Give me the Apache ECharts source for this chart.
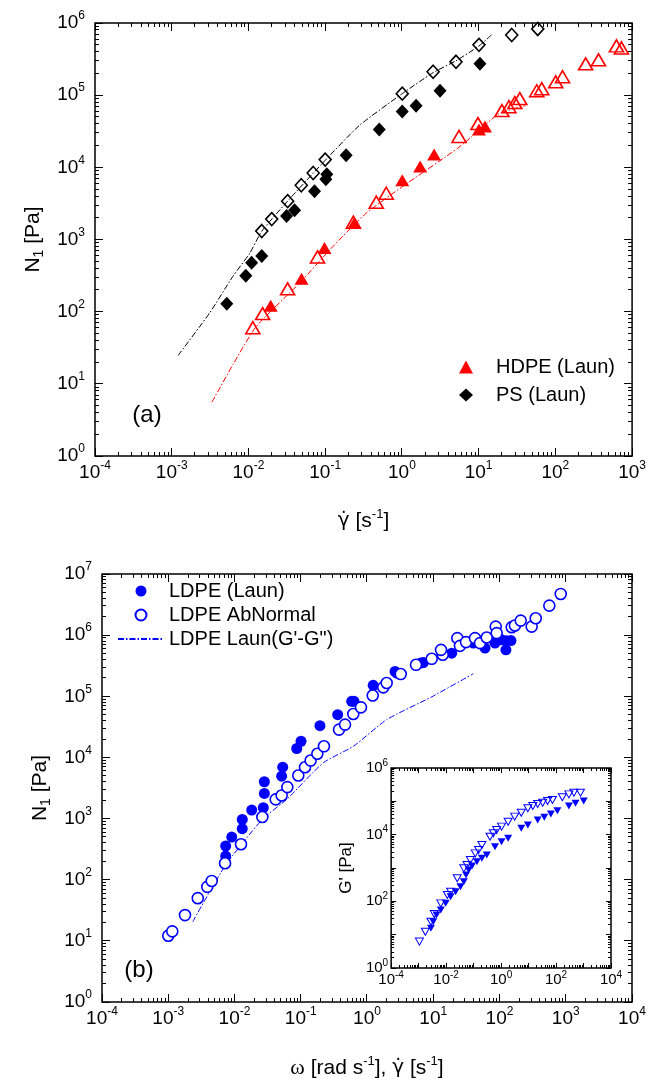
<!DOCTYPE html>
<html><head><meta charset="utf-8">
<script src="https://cdn.jsdelivr.net/npm/echarts@6/dist/echarts.min.js"></script>
<style>
html,body{margin:0;padding:0;background:#fff}
#wrap{position:relative;width:649px;height:1084px;overflow:hidden}
#ca{position:absolute;left:0;top:0;width:649px;height:540px}
#cb{position:absolute;left:0;top:540px;width:649px;height:544px}
#ci{position:absolute;left:330px;top:740px;width:300px;height:262px;z-index:2}
</style>
</head><body><div id="wrap"><div id="ca"></div><div id="cb"></div><div id="ci"></div></div>
<script>
// ---------- data (a) ----------
const hdpeFilled = [[0.0195,121],[0.0492,285],[0.098,764],[0.24,1690],[1.01,6620],[1.73,10300],[2.63,15100],[10.1,33400],[12.1,36800]];
const hdpeOpen = [[0.0114,60],[0.0153,94],[0.0324,207],[0.0794,574],[0.233,1740],[0.463,3290],[0.625,4380],[5.55,26800],[9.8,40400],[20.1,61100],[24.8,69300],[29.6,78900],[34.4,89600],[57.2,115000],[66.4,123000],[101,153000],[124,180000],[248,272000],[365,309000],[625,482000],[726,452000]];
const psFilled = [[0.00522,129],[0.00923,314],[0.011,475],[0.0149,592],[0.0314,2110],[0.0399,2550],[0.0726,4670],[0.102,6820],[0.105,8000],[0.1875,14700],[0.507,33400],[1.01,59200],[1.53,71600],[3.14,115000],[10.4,272000]];
const psOpen = [[0.0149,1310],[0.0201,1920],[0.0324,3400],[0.0488,5650],[0.0698,8340],[0.1,12800],[1.01,105000],[2.55,211000],[5.07,290000],[10.1,498000],[27,682000],[58.9,827000]];
const hdpeLine = [[0.00334,5.56],[0.0063,18.6],[0.0127,62.7],[0.0463,249],[0.1256,796],[0.34,2300],[1.0,5350],[5.55,19000],[18.4,55100],[40.7,71600]];
const psLine = [[0.00121,24.7],[0.00314,97],[0.00625,307],[0.0104,646],[0.0149,1300],[0.0324,3400],[0.1,12500],[0.279,38000],[1.01,105000],[2.55,205000],[5.07,300000],[10.1,480000],[15,698000]];
// ---------- data (b) ----------
const ldpeFilled = [[0.00736,244],[0.00736,356],[0.00908,499],[0.0131,684],[0.0131,970],[0.0182,1380],[0.0272,1510],[0.0282,2580],[0.0282,4000],[0.0515,4930],[0.0534,6920],[0.0869,14000],[0.101,18400],[0.195,33100],[0.361,50100],[0.587,82600],[0.637,82600],[1.24,151000],[2.65,255000],[2.81,240000],[6.47,349000],[7.08,357000],[19.0,508000],[40.3,741000],[60.4,614000],[85.5,741000],[108,837000],[128,807000],[149,816000],[125,575000]];
const ldpeOpen = [[0.001,12.1],[0.00115,14.3],[0.00179,26.4],[0.00279,49.9],[0.00388,76.4],[0.00453,95.5],[0.0072,186],[0.01253,380],[0.0263,1060],[0.0419,2060],[0.0515,2390],[0.0627,3270],[0.0918,5070],[0.116,6920],[0.141,8890],[0.178,11500],[0.224,15200],[0.378,28500],[0.466,34400],[0.621,51400],[0.811,65900],[1.22,103000],[1.76,140000],[1.98,165000],[3.23,231000],[5.49,327000],[9.48,410000],[13.9,478000],[13.1,575000],[23.1,893000],[25.3,668000],[31.2,770000],[42.7,893000],[50.8,741000],[64.1,915000],[87.7,1380000],[90.7,1080000],[153,1350000],[171,1440000],[209,1730000],[306,1380000],[352,1890000],[565,3040000],[840,4720000]];
const ldpeLine = [[0.00234,20.5],[0.0072,168],[0.0263,970],[0.0614,2060],[0.219,8170],[0.621,15200],[1.98,41500],[9.5,98000],[40.3,234000]];
// ---------- inset data ----------
const insetOpen = [[0.00107,6.2],[0.00175,12.3],[0.0028,24.5],[0.0037,41.7],[0.0064,87],[0.0111,155],[0.0146,195],[0.0254,490],[0.044,977],[0.0578,1230],[0.0762,1740],[0.115,2750],[0.152,3470],[0.2,4900],[0.397,8710],[0.524,11000],[0.69,13800],[1.04,17400],[1.81,24500],[3.13,34700],[5.43,45700],[9.44,61700],[14.3,72400],[21.5,83200],[32.6,91200],[49.2,102000],[74.3,110000],[170,132000],[294,162000],[446,182000],[773,182000]];
const insetFilled = [[0.0028,15.5],[0.0034,24.5],[0.00447,38.9],[0.0064,55],[0.00966,87],[0.0146,138],[0.0221,195],[0.0333,275],[0.044,389],[0.0532,617],[0.0665,871],[0.0875,1150],[0.132,1550],[0.2,1950],[0.302,2450],[0.601,4370],[1.04,6170],[1.81,7760],[5.43,15500],[9.44,19500],[21.5,27500],[37.3,33100],[64.9,41700],[112,52500],[294,72400],[512,87100],[1016,102000]];
// ---------- axis ranges ----------
const rangeA = {xmin: 1e-4, xmax: 1e3, ymin: 1, ymax: 1e6};
const rangeB = {xmin: 1e-4, xmax: 1e4, ymin: 1, ymax: 1e7};
const rangeI = {xmin: 1e-4, xmax: 1e4, ymin: 1, ymax: 1e6};

const FONT = '"Liberation Sans", Arial, Helvetica, sans-serif';
const SERIF = '"Liberation Serif", "Times New Roman", serif';
const DJ = '"DejaVu Sans", sans-serif';

function lab(margin, sz, ssz, lh, skipOdd) {
  return {
    margin: margin,
    formatter: function (v) {
      const e = Math.round(Math.log10(v));
      if (skipOdd && e % 2 !== 0) return '';
      return '{b|10}{s|' + e + '}';
    },
    rich: {
      b: {fontSize: sz, fontFamily: FONT, color: '#000', lineHeight: lh, verticalAlign: 'middle'},
      s: {fontSize: ssz, fontFamily: FONT, color: '#000', lineHeight: ssz + 2, verticalAlign: 'top'}
    }
  };
}
function axis(isX, rng, pos, label, extra) {
  return Object.assign({
    type: 'log', logBase: 10, gridIndex: 0, position: pos,
    min: isX ? rng.xmin : rng.ymin, max: isX ? rng.xmax : rng.ymax,
    axisLine: {show: false}, splitLine: {show: false},
    axisLabel: label ? label : {show: false},
    axisTick: {show: false}, minorTick: {show: false}
  }, extra || {});
}

const dash = [6, 2, 1.5, 2];
const nameRich = {
  n: {fontSize: 21, fontFamily: FONT, color: '#000', lineHeight: 26, verticalAlign: 'middle'},
  g: {fontSize: 20, fontFamily: DJ, color: '#000', lineHeight: 26, verticalAlign: 'middle'},
  w: {fontSize: 22, fontFamily: SERIF, color: '#000', lineHeight: 26, verticalAlign: 'middle'},
  s: {fontSize: 13, fontFamily: FONT, color: '#000', lineHeight: 14, verticalAlign: 'top'},
  sub: {fontSize: 14, fontFamily: FONT, color: '#000', lineHeight: 14, verticalAlign: 'bottom'}
};
const gridStyle = {show: true, borderColor: '#000', borderWidth: 1.5};

// ---------- panel (a) ----------
const optA = {
  animation: false,
  grid: [Object.assign({left: 95, top: 23, width: 539, height: 433}, gridStyle)],
  xAxis: [
    axis(true, rangeA, 'bottom', lab(4, 19, 12, 26), {name: '{g|\u03b3\u0307}{n| [s}{s|-1}{n|]}', nameLocation: 'middle', nameGap: 52, nameTextStyle: {rich: nameRich}})
  ],
  yAxis: [
    axis(false, rangeA, 'left', lab(10, 19, 12, 26), {name: '{n|N}{sub|1}{n| [Pa]}', nameLocation: 'middle', nameGap: 45, nameTextStyle: {rich: nameRich}})
  ],
  legend: {data: ['HDPE (Laun)', 'PS (Laun)'], orient: 'vertical', left: 459, top: 357, itemWidth: 14, itemHeight: 13, itemGap: 8, padding: 0, selectedMode: false,
    formatter: function (n) { return '{sp|}{t|' + n + '}'; },
    textStyle: {fontSize: 20, fontFamily: FONT, color: '#000', lineHeight: 20,
      rich: {sp: {width: 18}, t: {fontSize: 20, fontFamily: FONT, color: '#000', lineHeight: 20}}}},
  graphic: [{type: 'text', style: {text: '(a)', x: 147, y: 415, align: 'center', verticalAlign: 'middle', font: '24px "Liberation Sans", Arial, sans-serif', fill: '#000'}}],
  series: [
    {name: 'hdpeLine', type: 'line', data: hdpeLine, showSymbol: false, symbol: 'none', smooth: 0.2, lineStyle: {color: '#ff0000', width: 1, type: dash}, z: 2},
    {name: 'psLine', type: 'line', data: psLine, showSymbol: false, symbol: 'none', smooth: 0.2, lineStyle: {color: '#000', width: 1, type: dash}, z: 2},
    {name: 'hdpeOpen', type: 'scatter', data: hdpeOpen, symbol: 'triangle', symbolSize: [14, 12], itemStyle: {color: 'rgba(255,255,255,0)', borderColor: '#ff0000', borderWidth: 1.6, opacity: 1}, z: 3},
    {name: 'HDPE (Laun)', type: 'scatter', data: hdpeFilled, symbol: 'triangle', symbolSize: [14, 12], itemStyle: {color: '#ff0000', opacity: 1}, z: 3},
    {name: 'psOpen', type: 'scatter', data: psOpen, symbol: 'diamond', symbolSize: [12, 13], itemStyle: {color: 'rgba(255,255,255,0)', borderColor: '#000', borderWidth: 1.6, opacity: 1}, z: 3},
    {name: 'PS (Laun)', type: 'scatter', data: psFilled, symbol: 'diamond', symbolSize: [13, 14], itemStyle: {color: '#000', opacity: 1}, z: 3}
  ]
};

// ---------- panel (b) ----------
const optB = {
  animation: false,
  grid: [Object.assign({left: 102, top: 34, width: 530, height: 429}, gridStyle)],
  xAxis: [
    axis(true, rangeB, 'bottom', lab(4, 19, 12, 26), {name: '{w|\u03c9}{n| [rad s}{s|-1}{n|], }{g|\u03b3\u0307}{n| [s}{s|-1}{n|]}', nameLocation: 'middle', nameGap: 53, nameTextStyle: {rich: nameRich}})
  ],
  yAxis: [
    axis(false, rangeB, 'left', lab(10, 19, 12, 26), {name: '{n|N}{sub|1}{n| [Pa]}', nameLocation: 'middle', nameGap: 45, nameTextStyle: {rich: nameRich}})
  ],
  legend: {data: ['LDPE (Laun)', 'LDPE AbNormal', {name: "LDPE Laun(G'-G\")", itemStyle: {color: 'rgba(0,0,0,0)', borderWidth: 0}}],
    orient: 'vertical', left: 117, top: 41, itemWidth: 46, itemHeight: 11, itemGap: 4, padding: 0, selectedMode: false,
    textStyle: {fontSize: 20, fontFamily: FONT, color: '#000', lineHeight: 20}},
  graphic: [{type: 'text', style: {text: '(b)', x: 139, y: 430, align: 'center', verticalAlign: 'middle', font: '24px "Liberation Sans", Arial, sans-serif', fill: '#000'}}],
  series: [
    {name: "LDPE Laun(G'-G\")", type: 'line', data: ldpeLine, showSymbol: false, symbol: 'none', smooth: 0.2, lineStyle: {color: '#0000ff', width: 1, type: dash}, itemStyle: {color: '#0000ff'}, z: 2},
    {name: 'LDPE (Laun)', type: 'scatter', data: ldpeFilled, symbol: 'circle', symbolSize: 11, itemStyle: {color: '#0000ff', opacity: 1}, z: 3},
    {name: 'LDPE AbNormal', type: 'scatter', data: ldpeOpen, symbol: 'circle', symbolSize: 11, itemStyle: {color: '#ffffff', borderColor: '#0000ff', borderWidth: 1.6, opacity: 1}, z: 3}
  ]
};

// ---------- inset ----------
const optI = {
  animation: false,
  grid: [Object.assign({left: 58, top: 28, width: 223, height: 200}, gridStyle)],
  xAxis: [axis(true, rangeI, 'bottom', lab(2, 15, 10, 20, true))],
  yAxis: [axis(false, rangeI, 'left', lab(3, 15, 10, 20, true), {name: "G' [Pa]", nameLocation: 'middle', nameGap: 33, nameTextStyle: {fontSize: 17, fontFamily: FONT, color: '#000'}})],
  graphic: [],
  series: [
    {name: 'insetFilled', type: 'scatter', data: insetFilled, symbol: 'triangle', symbolRotate: 180, symbolSize: [8, 7], itemStyle: {color: '#0000ff', opacity: 1}, z: 3},
    {name: 'insetOpen', type: 'scatter', data: insetOpen, symbol: 'triangle', symbolRotate: 180, symbolSize: [8, 7], itemStyle: {color: 'rgba(255,255,255,0)', borderColor: '#0000ff', borderWidth: 1, opacity: 1}, z: 3}
  ]
};

// inward frame ticks on all four sides, positioned through the chart's own axis scale
function tickValues(lo, hi, majL, minL) {
  const e0 = Math.round(Math.log10(lo)), e1 = Math.round(Math.log10(hi));
  const out = [];
  for (let e = e0; e <= e1; e++) {
    const p = e < 0 ? 1 / Math.pow(10, -e) : Math.pow(10, e);
    out.push([p, majL]);
    if (e < e1) for (let m = 2; m <= 9; m++) out.push([m * p, minL]);
  }
  return out;
}
function addTicks(chart, opt, rng, majL, minL) {
  const els = (opt.graphic || []).slice();
  const f = {xAxisIndex: 0, yAxisIndex: 0};
  const snap = v => Math.round(v - 0.5) + 0.5;
  function ln(x1, y1, x2, y2) {
    els.push({type: 'line', silent: true, z: 50, shape: {x1: x1, y1: y1, x2: x2, y2: y2}, style: {stroke: '#000', lineWidth: 1}});
  }
  tickValues(rng.xmin, rng.xmax, majL, minL).forEach(function (t) {
    const a = chart.convertToPixel(f, [t[0], rng.ymin]);
    const b = chart.convertToPixel(f, [t[0], rng.ymax]);
    const x = snap(a[0]);
    ln(x, a[1], x, a[1] - t[1]);
    ln(x, b[1], x, b[1] + t[1]);
  });
  tickValues(rng.ymin, rng.ymax, majL, minL).forEach(function (t) {
    const a = chart.convertToPixel(f, [rng.xmin, t[0]]);
    const b = chart.convertToPixel(f, [rng.xmax, t[0]]);
    const y = snap(a[1]);
    ln(a[0], y, a[0] + t[1], y);
    ln(b[0], y, b[0] - t[1], y);
  });
  chart.setOption({graphic: els});
  chart.getZr().flush();
}

const chA = echarts.init(document.getElementById('ca'));
chA.setOption(optA);
const chB = echarts.init(document.getElementById('cb'));
chB.setOption(optB);
const chI = echarts.init(document.getElementById('ci'));
chI.setOption(optI);
addTicks(chA, optA, rangeA, 8, 4);
addTicks(chB, optB, rangeB, 8, 4);
addTicks(chI, optI, rangeI, 5, 3);
</script>
</body></html>
